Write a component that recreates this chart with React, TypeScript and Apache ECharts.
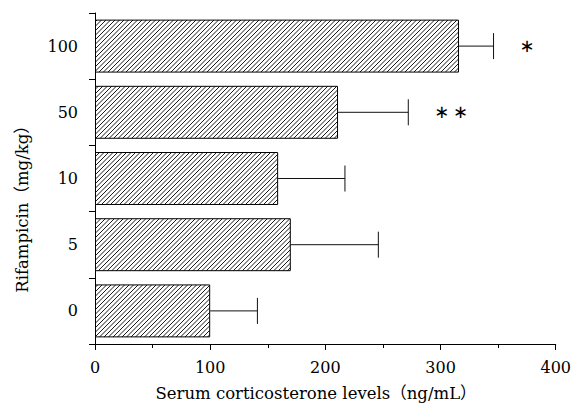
import React, { useEffect, useRef } from "react";
import * as echarts from "echarts";

// Data
const doses = ["0", "5", "10", "50", "100"]; // Rifampicin (mg/kg), bottom to top
const means = [100, 170, 159, 211, 316]; // serum corticosterone (ng/mL)
const upperErrors = [141, 246, 217, 272, 346]; // mean + SD
const significance = ["", "", "", "∗\u2009∗", "∗"];
const xMin = 0;
const xMax = 400;
const xInterval = 100;

const FONT = "'DejaVu Serif', 'Noto Sans CJK JP', serif";

function makeHatch(): string {
  const s = 9;
  const c = document.createElement("canvas");
  c.width = s;
  c.height = s;
  const ctx = c.getContext("2d")!;
  ctx.fillStyle = "#ffffff";
  ctx.fillRect(0, 0, s, s);
  ctx.strokeStyle = "#1a1a1a";
  ctx.lineWidth = 1;
  for (let k = -2; k <= 5; k++) {
    const cc = k * 4.5;
    ctx.beginPath();
    ctx.moveTo(cc - s, s);
    ctx.lineTo(cc, 0);
    ctx.stroke();
  }
  return c.toDataURL();
}

export default function App() {
  const ref = useRef<HTMLDivElement>(null);

  useEffect(() => {
    if (!ref.current) return;
    const chart = echarts.init(ref.current, null, { renderer: "svg" });
    const hatch = makeHatch();

    const option: any = {
      animation: false,
      backgroundColor: "#ffffff",
      textStyle: { fontFamily: FONT, color: "#000" },
      grid: { left: 95, right: 18, top: 13, bottom: 62, containLabel: false },
      xAxis: {
        type: "value",
        min: xMin,
        max: xMax,
        interval: xInterval,
        axisLine: { show: true, lineStyle: { color: "#000", width: 1 } },
        axisTick: { show: true, length: 6, lineStyle: { color: "#000" } },
        minorTick: { show: true, splitNumber: 2, length: 4, lineStyle: { color: "#000" } },
        splitLine: { show: false },
        axisLabel: { color: "#000", fontFamily: FONT, fontSize: 16, margin: 15 },
      },
      yAxis: {
        type: "category",
        data: doses,
        axisLine: { show: true, lineStyle: { color: "#000", width: 1 } },
        axisTick: { show: true, length: 6, lineStyle: { color: "#000" } },
        axisLabel: { color: "#000", fontFamily: FONT, fontSize: 16, margin: 17 },
      },
      graphic: [
        {
          type: "text",
          x: 316,
          y: 393,
          style: {
            text: "Serum corticosterone levels（ng/mL）",
            font: `16.5px ${FONT}`,
            fill: "#000",
            textAlign: "center",
            textVerticalAlign: "middle",
          },
        },
        {
          type: "text",
          x: 22,
          y: 205,
          rotation: Math.PI / 2,
          style: {
            text: "Rifampicin（mg/kg）",
            font: `16.5px ${FONT}`,
            fill: "#000",
            textAlign: "center",
            textVerticalAlign: "middle",
          },
        },
      ],
      series: [
        {
          type: "bar",
          data: means,
          barWidth: "80%",
          itemStyle: {
            color: { image: hatch, repeat: "repeat", imageWidth: 9, imageHeight: 9 },
            borderColor: "#000",
            borderWidth: 1,
          },
          z: 2,
        },
        {
          type: "custom",
          data: doses.map((_, i) => [means[i], i, upperErrors[i]]),
          encode: { x: [0, 2], y: 1 },
          z: 3,
          renderItem: (params: any, api: any) => {
            const idx = api.value(1);
            const start = api.coord([api.value(0), idx]);
            const end = api.coord([api.value(2), idx]);
            const half = 13;
            const sig = significance[params.dataIndex];
            const children: any[] = [
              {
                type: "line",
                shape: { x1: start[0], y1: start[1], x2: end[0], y2: end[1] },
                style: { stroke: "#111", lineWidth: 1 },
              },
              {
                type: "line",
                shape: { x1: end[0], y1: end[1] - half, x2: end[0], y2: end[1] + half },
                style: { stroke: "#111", lineWidth: 1 },
              },
            ];
            if (sig) {
              children.push({
                type: "text",
                x: end[0] + 26,
                y: end[1] - 1,
                style: {
                  text: sig,
                  font: "18px 'DejaVu Sans', sans-serif",
                  fill: "#000",
                  textAlign: "left",
                  textVerticalAlign: "middle",
                },
              });
            }
            return { type: "group", children };
          },
        },
      ],
    };

    chart.setOption(option);
    return () => chart.dispose();
  }, []);

  return <div ref={ref} style={{ width: 574, height: 406, position: "absolute", left: 0, top: 0 }} />;
}
